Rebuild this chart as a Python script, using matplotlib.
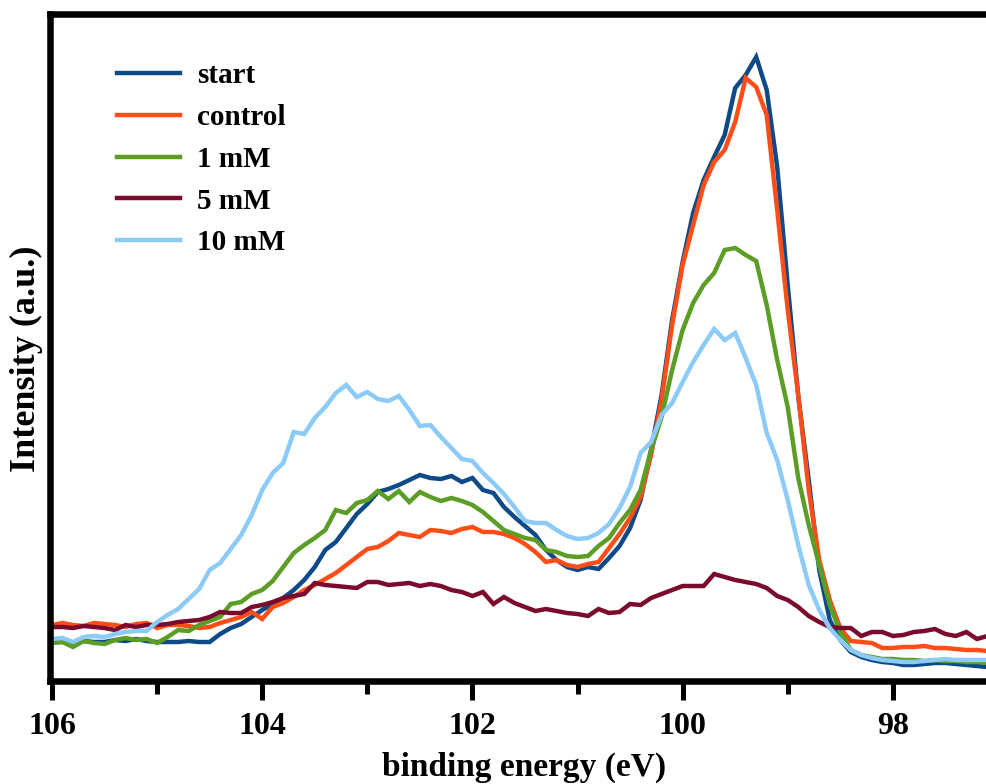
import numpy as np
import matplotlib.pyplot as plt
from matplotlib.ticker import MultipleLocator

# binding energy grid, 0.1 eV steps from 106.0 down to 97.1
energy = np.round(np.arange(106.0, 97.05, -0.1), 1)

start = [39, 39, 38, 40, 39, 39, 41, 40, 42, 40, 39, 39, 39, 40, 39, 39, 47, 53, 57, 64,
         71, 77, 83, 91, 101, 114, 131, 139, 153, 167, 177, 189, 192, 196, 201, 206, 203, 202, 205, 199,
         203, 191, 188, 174, 164, 155, 146, 131, 121, 114, 111, 114, 112, 123, 135, 153, 181, 231, 286, 361,
         419, 468, 501, 524, 546, 593, 606, 624, 591, 514, 396, 285, 201, 111, 61, 41, 29, 24, 21, 19,
         18, 16, 16, 17, 18, 18, 17, 16, 15, 14]

control = [56, 58, 56, 55, 58, 57, 56, 54, 57, 58, 53, 56, 56, 55, 53, 54, 58, 61, 64, 69,
           62, 74, 78, 84, 91, 96, 102, 108, 116, 124, 132, 134, 140, 148, 146, 144, 151, 150, 148, 152,
           154, 149, 149, 147, 143, 137, 129, 119, 121, 116, 114, 117, 119, 133, 147, 163, 184, 226, 281, 356,
           416, 456, 496, 519, 531, 559, 603, 594, 566, 471, 371, 286, 191, 121, 81, 53, 40, 39, 38, 33,
           33, 34, 34, 35, 33, 33, 32, 31, 31, 30]

mm1 = [38, 39, 34, 40, 38, 37, 41, 43, 41, 42, 38, 44, 51, 50, 56, 60, 64, 77, 79, 87,
       91, 100, 114, 128, 136, 143, 151, 171, 168, 178, 181, 190, 182, 190, 179, 189, 184, 180, 183, 180,
       176, 169, 160, 151, 147, 143, 141, 131, 129, 125, 124, 125, 135, 143, 158, 171, 191, 231, 264, 311,
       351, 378, 396, 408, 431, 433, 426, 420, 376, 321, 274, 203, 156, 116, 76, 49, 31, 26, 24, 22,
       22, 21, 21, 20, 21, 20, 20, 19, 19, 18]

mm5 = [54, 54, 53, 55, 54, 53, 51, 56, 54, 56, 56, 57, 59, 60, 61, 64, 69, 68, 68, 74,
       76, 79, 83, 85, 87, 98, 96, 95, 94, 93, 99, 99, 96, 97, 98, 95, 97, 95, 91, 89,
       85, 89, 77, 84, 78, 74, 70, 72, 70, 68, 67, 65, 72, 68, 69, 77, 76, 83, 87, 91,
       95, 95, 95, 107, 104, 101, 99, 97, 93, 85, 81, 74, 65, 59, 54, 53, 53, 45, 49, 49,
       45, 46, 49, 50, 52, 47, 45, 49, 42, 45]

mm10 = [42, 43, 39, 44, 45, 44, 47, 49, 50, 50, 59, 66, 72, 82, 92, 111, 118, 132, 146, 166,
        191, 208, 218, 249, 247, 263, 274, 288, 296, 284, 289, 282, 280, 285, 271, 255, 256, 244, 233, 222,
        220, 208, 198, 187, 174, 160, 158, 158, 151, 145, 142, 143, 148, 157, 173, 194, 228, 239, 266, 278,
        299, 319, 336, 352, 341, 348, 323, 296, 248, 221, 181, 136, 96, 71, 53, 41, 31, 26, 23, 21,
        20, 19, 19, 20, 21, 22, 21, 21, 21, 21]

series = [
    ("start", start, "#0e4a87"),
    ("control", control, "#ff4d17"),
    ("1 mM", mm1, "#5b9d25"),
    ("5 mM", mm5, "#7a0b2c"),
    ("10 mM", mm10, "#8ccaf8"),
]

plt.rcParams["font.family"] = ["Liberation Serif", "DejaVu Serif"]
plt.rcParams["font.weight"] = "bold"

fig = plt.figure(figsize=(9.87, 7.84), dpi=100)
ax = fig.add_axes([50 / 987, 103 / 784, 937 / 987, 667 / 784])

for name, vals, col in series:
    ax.plot(energy, vals, color=col, lw=3.2, label=name, solid_joinstyle="miter")

ax.set_xlim(106.019, 97.104)
ax.set_ylim(0, 667)

for side in ["left", "bottom", "top"]:
    ax.spines[side].set_linewidth(4.7)
ax.spines["right"].set_visible(False)

ax.set_yticks([])
ax.xaxis.set_major_locator(MultipleLocator(2))
ax.xaxis.set_minor_locator(MultipleLocator(1))
ax.tick_params(axis="x", which="major", direction="out", length=14, width=3.6,
               pad=8, labelsize=23)
ax.tick_params(axis="x", which="minor", direction="out", length=9, width=3.6)
for lbl in ax.get_xticklabels():
    lbl.set_fontweight("bold")

ax.set_xlabel("binding energy (eV)", fontsize=24, fontweight="bold")
ax.xaxis.set_label_coords(0.506, -0.106)
ax.set_ylabel("Intensity (a.u.)", fontsize=26, fontweight="bold")
ax.yaxis.set_label_coords(-0.008, 0.483)

ax.legend(loc="upper left", bbox_to_anchor=(117 / 987, 1 - 62 / 784),
          bbox_transform=fig.transFigure, frameon=False,
          handlelength=2.16, handletextpad=0.58, labelspacing=0.51,
          borderpad=0, borderaxespad=0, prop={"weight": "bold", "size": 21})

fig.savefig("out.png", dpi=100)
